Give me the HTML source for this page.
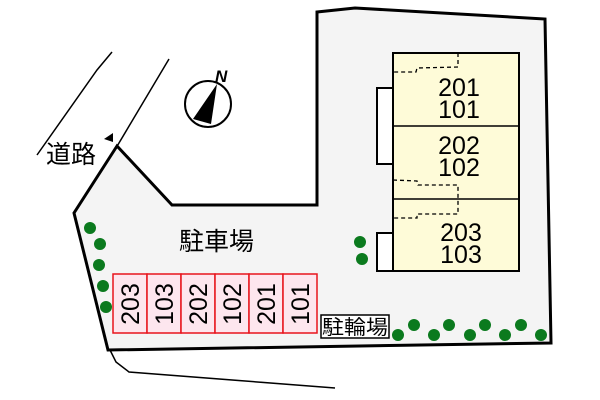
<!DOCTYPE html>
<html><head><meta charset="utf-8"><style>
body{margin:0;background:#fff;width:600px;height:400px;overflow:hidden}
svg{display:block}
text{font-family:"Liberation Sans","Noto Sans CJK JP",sans-serif}
</style></head><body>
<svg width="600" height="400" viewBox="0 0 600 400">
<polygon points="117,146 172,205 317,205 317,12 355,8 545,19 551,343 108,350 74,213" fill="#f4f4f4" stroke="#000" stroke-width="3" stroke-linejoin="miter"/>
<polyline points="37,155 97,70 112,52" fill="none" stroke="#000" stroke-width="1.5"/>
<line x1="116" y1="148" x2="169" y2="59" stroke="#000" stroke-width="1.5"/>
<polygon points="104,139 113,133 113,142" fill="#000"/>
<text x="46" y="163" font-size="25">道路</text>
<polyline points="110,350 116,362 129,372 335,388" fill="none" stroke="#000" stroke-width="1.5"/>
<circle cx="208" cy="104" r="23" fill="#fff" stroke="#000" stroke-width="2"/>
<polygon points="217,84 193,119 211,124" fill="#000"/>
<text x="215" y="82" font-size="17" font-weight="bold" font-style="italic">N</text>
<text x="179" y="250" font-size="25">駐車場</text>
<g stroke="#000" stroke-width="2">
<rect x="377" y="88" width="16" height="76" fill="#fff"/>
<rect x="377" y="233" width="16" height="38" fill="#fff"/>
<rect x="393" y="53" width="126" height="218" fill="#fefbd8"/>
<line x1="393" y1="126" x2="519" y2="126" stroke-width="1.5"/>
<line x1="393" y1="199" x2="519" y2="199" stroke-width="1.5"/>
</g>
<g fill="none" stroke="#000" stroke-width="1.3" stroke-dasharray="4,3">
<polyline points="458,53 458,67 417,68 416,72 393,72"/>
<polyline points="393,180 417,181 418,185 458,185 458,214 417,214 417,218 393,218"/>
</g>
<g font-size="25" text-anchor="middle">
<text x="459" y="96">201</text><text x="459" y="118">101</text>
<text x="459" y="154">202</text><text x="459" y="176">102</text>
<text x="461" y="241">203</text><text x="461" y="263">103</text>
</g>
<g stroke="#e8141c" stroke-width="1.5" fill="#fde6ee">
<rect x="113" y="274" width="34" height="59"/><rect x="147" y="274" width="34" height="59"/>
<rect x="181" y="274" width="34" height="59"/><rect x="215" y="274" width="34" height="59"/>
<rect x="249" y="274" width="34" height="59"/><rect x="283" y="274" width="34" height="59"/>
</g>
<g font-size="25" text-anchor="middle">
<text transform="translate(139,304) rotate(-90)">203</text>
<text transform="translate(173,304) rotate(-90)">103</text>
<text transform="translate(207,304) rotate(-90)">202</text>
<text transform="translate(241,304) rotate(-90)">102</text>
<text transform="translate(275,304) rotate(-90)">201</text>
<text transform="translate(309,304) rotate(-90)">101</text>
</g>
<rect x="321" y="315" width="68" height="23" fill="#fff" stroke="#000" stroke-width="1.5"/>
<text x="355" y="334" font-size="20" text-anchor="middle" textLength="66" lengthAdjust="spacingAndGlyphs">駐輪場</text>
<g fill="#0b7a1e">
<circle cx="90" cy="228" r="6"/><circle cx="100" cy="244" r="6"/><circle cx="99" cy="265" r="6"/><circle cx="103" cy="286" r="6"/><circle cx="106" cy="307" r="6"/>
<circle cx="360" cy="242" r="6"/><circle cx="362" cy="259" r="6"/>
<circle cx="398" cy="335" r="6"/><circle cx="414" cy="325" r="6"/><circle cx="434" cy="335" r="6"/><circle cx="449" cy="325" r="6"/><circle cx="470" cy="335" r="6"/><circle cx="485" cy="325" r="6"/><circle cx="505" cy="335" r="6"/><circle cx="521" cy="325" r="6"/><circle cx="541" cy="335" r="6"/>
</g>
</svg>
</body></html>
